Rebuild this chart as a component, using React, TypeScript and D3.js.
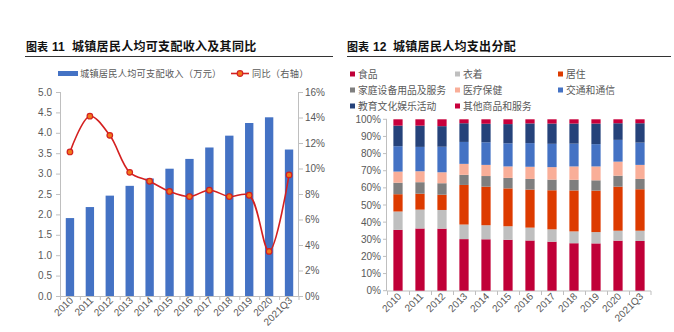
import React from "react";
import * as d3 from "d3";

const years = ["2010","2011","2012","2013","2014","2015","2016","2017","2018","2019","2020","2021Q3"];
const income = [1.91, 2.18, 2.46, 2.70, 2.88, 3.12, 3.36, 3.64, 3.93, 4.24, 4.38, 3.59];
const growth = [11.3, 14.1, 12.6, 9.7, 9.0, 8.2, 7.8, 8.3, 7.8, 7.9, 3.5, 9.5];
const leftTicks = [0, 0.5, 1, 1.5, 2, 2.5, 3, 3.5, 4, 4.5, 5];
const rightTicks = [0, 2, 4, 6, 8, 10, 12, 14, 16];
const pctTicks = [0, 10, 20, 30, 40, 50, 60, 70, 80, 90, 100];

const catNames = ["食品", "衣着", "居住", "家庭设备用品及服务", "医疗保健", "交通和通信", "教育文化娱乐活动", "其他商品和服务"];
const catColors = ["#C00038", "#BFBFBF", "#DD3B00", "#7F7F7F", "#F9AE98", "#4472C4", "#25427A", "#C8003C"];
const food =      [35.5, 36.3, 36.2, 30.1, 30.0, 29.7, 29.3, 28.6, 27.7, 27.6, 29.2, 29.0];
const clothing =  [10.7, 11.0, 10.9, 8.5, 8.2, 7.9, 7.5, 7.2, 6.9, 6.6, 5.8, 6.0];
const housing =   [10.1, 9.3, 8.9, 23.1, 22.5, 22.1, 22.2, 22.8, 23.9, 24.2, 25.7, 24.2];
const household = [6.7, 6.7, 6.7, 5.9, 6.2, 6.1, 6.2, 6.2, 6.2, 6.0, 6.4, 6.0];
const health =    [6.5, 6.4, 6.4, 6.4, 6.5, 6.7, 7.1, 7.3, 7.8, 8.1, 8.2, 8.2];
const transport = [14.8, 14.2, 14.9, 12.8, 13.2, 13.5, 13.8, 13.6, 13.3, 13.0, 12.7, 13.0];
const education = [12.0, 12.4, 12.0, 10.9, 10.8, 11.2, 11.5, 11.8, 11.7, 12.0, 9.7, 11.3];
const other =     [3.7, 3.7, 4.0, 2.3, 2.6, 2.8, 2.4, 2.5, 2.5, 2.5, 2.3, 2.3];
const series = [food, clothing, housing, household, health, transport, education, other];

const AX = "#BFBFBF";
const TXT = "#595959";
const FONT = "'Liberation Sans', Arial, sans-serif";
const CJK = "'Noto Sans CJK SC', sans-serif";

export default function App() {
  // left chart
  const lx = d3.scaleBand().domain(years).range([60, 299]).paddingInner(0).paddingOuter(0);
  const ly = d3.scaleLinear().domain([0, 5]).range([296, 92]);
  const ry = d3.scaleLinear().domain([0, 16]).range([296, 92]);
  const lbw = lx.bandwidth() * 0.42;
  const cx = (y: string) => (lx(y) as number) + lx.bandwidth() / 2;
  const line = d3.line<number>().x((_, i) => cx(years[i])).y(d => ry(d)).curve(d3.curveCatmullRom.alpha(0.5));

  // right chart
  const sx = d3.scaleBand().domain(years).range([387, 651]).paddingInner(0).paddingOuter(0);
  const sy = d3.scaleLinear().domain([0, 1]).range([290.7, 119.3]);
  const sbw = sx.bandwidth() * 0.42;
  const rows = years.map((y, i) => {
    const o: any = { year: y };
    series.forEach((s, k) => (o["k" + k] = s[i]));
    return o;
  });
  const stack = d3.stack<any>().keys(series.map((_, k) => "k" + k)).offset(d3.stackOffsetExpand);
  const stacked = stack(rows);

  const legendPos = [
    [350, 74], [455, 74], [558, 74],
    [350, 90], [455, 90], [558, 90],
    [350, 106], [455, 106],
  ];

  return (
    <svg width={674} height={332} style={{ position: "absolute", left: 0, top: 0, background: "#fff" }}>
      {/* titles */}
      <g fontFamily={CJK} fontWeight="bold" fontSize={12} fill="#111">
        <text x={26} y={51} fontSize={11}>图表</text>
        <text x={52} y={51} fontFamily={FONT}>11</text>
        <text x={72} y={51} letterSpacing={0.3}>城镇居民人均可支配收入及其同比</text>
        <text x={347} y={51} fontSize={11}>图表</text>
        <text x={373} y={51} fontFamily={FONT}>12</text>
        <text x={393} y={51} letterSpacing={0.3}>城镇居民人均支出分配</text>
      </g>
      <line x1={25} x2={333} y1={56.5} y2={56.5} stroke="#333" strokeWidth={1} />
      <line x1={347} x2={671} y1={56.5} y2={56.5} stroke="#333" strokeWidth={1} />

      {/* left legend */}
      <rect x={58} y={71} width={20} height={5} fill="#4472C4" />
      <text x={80} y={76.5} fontFamily={CJK} fontSize={9.2} letterSpacing={0.25} fill={TXT}>城镇居民人均可支配收入（万元）</text>
      <line x1={231} x2={249} y1={73.5} y2={73.5} stroke="#D42020" strokeWidth={1.6} />
      <circle cx={240} cy={73.5} r={2.8} fill="#F07A1A" stroke="#D42020" strokeWidth={1.2} />
      <text x={252} y={76.5} fontFamily={CJK} fontSize={9.2} letterSpacing={0.25} fill={TXT}>同比（右轴）</text>

      {/* left axes */}
      <line x1={60.5} x2={60.5} y1={92} y2={296} stroke={AX} />
      <line x1={298.5} x2={298.5} y1={92} y2={296} stroke={AX} />
      <line x1={60} x2={299} y1={296.5} y2={296.5} stroke={AX} />
      {leftTicks.map(t => (
        <g key={"lt" + t}>
          <line x1={56} x2={60} y1={ly(t) + 0.5} y2={ly(t) + 0.5} stroke={AX} />
          <text x={52} y={ly(t) + 3.5} textAnchor="end" fontFamily={FONT} fontSize={10} fill={TXT}>{t.toFixed(1)}</text>
        </g>
      ))}
      {rightTicks.map(t => (
        <g key={"rt" + t}>
          <line x1={299} x2={303} y1={ry(t) + 0.5} y2={ry(t) + 0.5} stroke={AX} />
          <text x={305} y={ry(t) + 3.5} textAnchor="start" fontFamily={FONT} fontSize={10} fill={TXT}>{t + "%"}</text>
        </g>
      ))}
      {years.map((y, i) => (
        <line key={"xt" + y} x1={(lx(y) as number) + 0.5} x2={(lx(y) as number) + 0.5} y1={296} y2={300} stroke={AX} />
      ))}
      <line x1={299} x2={299} y1={296} y2={300} stroke={AX} />
      {income.map((v, i) => (
        <rect key={"b" + i} x={cx(years[i]) - lbw / 2} y={ly(v)} width={lbw} height={ly(0) - ly(v)} fill="#4472C4" />
      ))}
      <path d={line(growth) || ""} fill="none" stroke="#D42020" strokeWidth={1.6} />
      {growth.map((v, i) => (
        <circle key={"m" + i} cx={cx(years[i])} cy={ry(v)} r={2.8} fill="#F07A1A" stroke="#D42020" strokeWidth={1.2} />
      ))}
      {years.map(y => (
        <text key={"xl" + y} transform={`translate(${cx(y) + 4},${301}) rotate(-45)`} textAnchor="end" fontFamily={FONT} fontSize={10} fill={TXT}>{y}</text>
      ))}

      {/* right legend */}
      {catNames.map((n, k) => (
        <g key={"lg" + k}>
          <rect x={legendPos[k][0]} y={legendPos[k][1] - 2.5} width={5} height={5} fill={catColors[k]} />
          <text x={legendPos[k][0] + 8} y={legendPos[k][1] + 3.5} fontFamily={CJK} fontSize={9.8} fill={TXT}>{n}</text>
        </g>
      ))}

      {/* right axes */}
      <line x1={386.5} x2={386.5} y1={119} y2={291} stroke={AX} />
      <line x1={387} x2={651} y1={291} y2={291} stroke={AX} />
      {pctTicks.map(t => (
        <g key={"pt" + t}>
          <line x1={383} x2={387} y1={sy(t / 100)} y2={sy(t / 100)} stroke={AX} />
          <text x={381} y={sy(t / 100) + 3.5} textAnchor="end" fontFamily={FONT} fontSize={10} fill={TXT}>{t + "%"}</text>
        </g>
      ))}
      {years.map(y => (
        <line key={"sxt" + y} x1={(sx(y) as number) + 0.5} x2={(sx(y) as number) + 0.5} y1={291} y2={295} stroke={AX} />
      ))}
      <line x1={651} x2={651} y1={291} y2={295} stroke={AX} />
      {stacked.map((layer, k) => (
        <g key={"layer" + k} fill={catColors[k]}>
          {layer.map((d, i) => (
            <rect key={i} x={(sx(years[i]) as number) + sx.bandwidth() / 2 - sbw / 2} y={sy(d[1])} width={sbw} height={sy(d[0]) - sy(d[1])} />
          ))}
        </g>
      ))}
      {years.map(y => (
        <text key={"sxl" + y} transform={`translate(${(sx(y) as number) + sx.bandwidth() / 2 + 4},${297}) rotate(-45)`} textAnchor="end" fontFamily={FONT} fontSize={10} fill={TXT}>{y}</text>
      ))}
    </svg>
  );
}
